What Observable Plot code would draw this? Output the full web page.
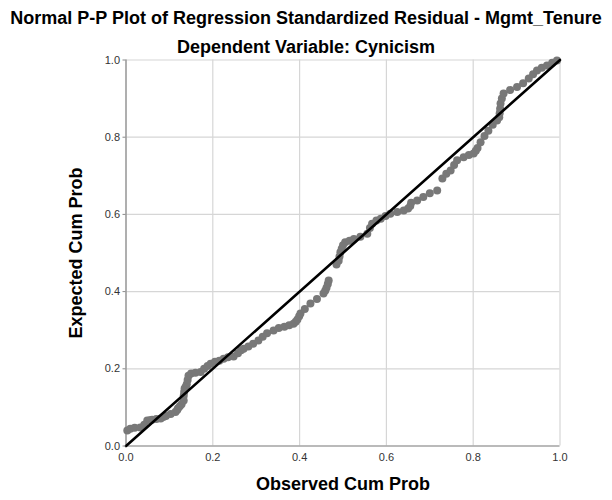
<!DOCTYPE html>
<html><head><meta charset="utf-8">
<script src="https://cdn.jsdelivr.net/npm/d3@7"></script>
<script src="https://cdn.jsdelivr.net/npm/@observablehq/plot@0.6"></script>
<style>
body{margin:0;background:#fff;font-family:"Liberation Sans",Arial,sans-serif;}
#wrap{width:612px;}
.t{font-weight:bold;font-size:18px;text-align:center;line-height:22px;color:#000;white-space:nowrap;}
</style></head><body>
<div id="wrap">
<div class="t" style="padding-top:7px">Normal P-P Plot of Regression Standardized Residual - Mgmt_Tenure</div>
<div class="t" style="margin-top:7px">Dependent Variable: Cynicism</div>
<div id="chart"></div>
</div>
<script>
const observed = [0.003,0.010,0.020,0.033,0.042,0.049,0.055,0.060,0.070,0.080,0.086,0.092,0.103,0.114,0.118,0.120,0.124,0.128,0.133,0.133,0.134,0.135,0.138,0.140,0.142,0.144,0.150,0.160,0.172,0.180,0.188,0.195,0.205,0.215,0.225,0.235,0.248,0.258,0.265,0.271,0.282,0.293,0.305,0.315,0.325,0.340,0.352,0.365,0.376,0.386,0.391,0.395,0.399,0.402,0.412,0.425,0.440,0.455,0.459,0.462,0.465,0.467,0.485,0.490,0.492,0.494,0.497,0.500,0.505,0.515,0.525,0.540,0.556,0.562,0.567,0.577,0.587,0.598,0.609,0.625,0.640,0.650,0.655,0.657,0.671,0.685,0.700,0.717,0.729,0.738,0.748,0.756,0.763,0.778,0.790,0.801,0.806,0.810,0.817,0.826,0.835,0.845,0.855,0.860,0.861,0.862,0.863,0.866,0.870,0.885,0.901,0.915,0.928,0.938,0.947,0.958,0.970,0.982,0.993];
const expected = [0.040,0.045,0.047,0.048,0.055,0.066,0.067,0.068,0.070,0.071,0.075,0.078,0.083,0.088,0.093,0.098,0.103,0.108,0.118,0.130,0.140,0.149,0.154,0.160,0.171,0.182,0.188,0.190,0.192,0.200,0.207,0.213,0.218,0.221,0.226,0.230,0.232,0.240,0.248,0.252,0.258,0.265,0.273,0.283,0.292,0.299,0.306,0.309,0.313,0.317,0.322,0.328,0.336,0.343,0.355,0.369,0.381,0.395,0.402,0.410,0.420,0.429,0.470,0.480,0.491,0.502,0.511,0.520,0.528,0.532,0.536,0.542,0.550,0.565,0.576,0.584,0.589,0.596,0.602,0.606,0.610,0.615,0.622,0.630,0.636,0.645,0.655,0.662,0.693,0.705,0.714,0.728,0.740,0.748,0.754,0.758,0.765,0.772,0.787,0.803,0.817,0.832,0.843,0.852,0.862,0.874,0.887,0.900,0.913,0.922,0.930,0.940,0.952,0.963,0.973,0.980,0.986,0.993,0.999];
const ticks = [0, 0.2, 0.4, 0.6, 0.8, 1.0];
const diagonal = [0, 1];

const points = observed.map((x, i) => ({x, y: expected[i]}));
const diag = diagonal.map(v => ({x: v, y: v}));
const fmt = d3.format(".1f");

const chart = Plot.plot({
  width: 612, height: 442,
  marginTop: 1.5, marginLeft: 125.5, marginRight: 52.5, marginBottom: 54.5,
  style: {fontFamily: "'Liberation Sans', Arial, sans-serif", fontSize: "11px", background: "#fff", overflow: "visible"},
  x: {domain: [0, 1]},
  y: {domain: [0, 1]},
  marks: [
    Plot.gridX(ticks, {stroke: "#d6d6d6", strokeOpacity: 1, strokeWidth: 1.2}),
    Plot.gridY(ticks, {stroke: "#d6d6d6", strokeOpacity: 1, strokeWidth: 1.2}),
    Plot.ruleX([0], {stroke: "#8a8a8a", strokeWidth: 1.2}),
    Plot.ruleY([0], {stroke: "#8a8a8a", strokeWidth: 1.2}),
    Plot.dot(points, {x: "x", y: "y", r: 4, fill: "#787878", stroke: "none"}),
    Plot.line(diag, {x: "x", y: "y", stroke: "#000", strokeWidth: 2.6}),
    Plot.axisX(ticks, {tickSize: 0, tickPadding: 7, tickFormat: fmt, label: null, fill: "#333"}),
    Plot.axisY(ticks, {tickSize: 3, tickPadding: 3, tickFormat: fmt, label: null, fill: "#333", stroke: "#8a8a8a"}),
    Plot.text(["Observed Cum Prob"], {frameAnchor: "bottom", dy: 43.5, fontWeight: "bold", fontSize: 18, fill: "#000", text: d => d}),
    Plot.text(["Expected Cum Prob"], {frameAnchor: "left", dx: -50, rotate: -90, textAnchor: "middle", fontWeight: "bold", fontSize: 18, fill: "#000", text: d => d})
  ]
});
document.getElementById("chart").appendChild(chart);
</script>
</body></html>
